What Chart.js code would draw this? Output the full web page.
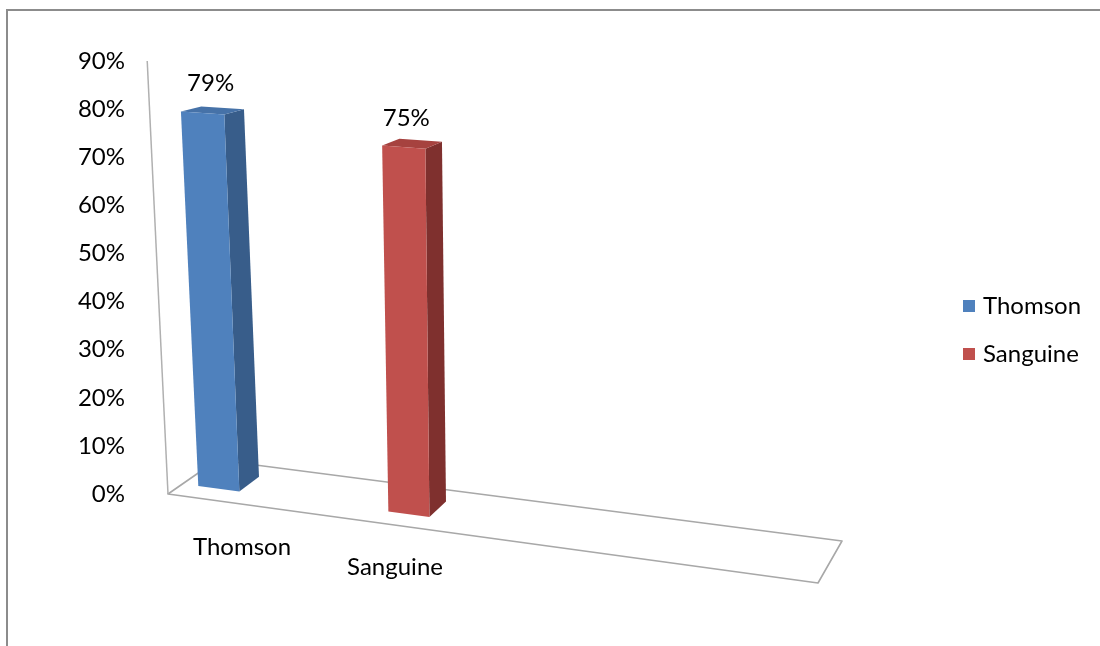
<!DOCTYPE html>
<html>
<head>
<meta charset="utf-8">
<script src="https://cdn.jsdelivr.net/npm/chart.js@4/dist/chart.umd.min.js"></script>
<style>
  html, body { margin: 0; padding: 0; background: #fff; }
  #wrap { width: 1100px; height: 646px; position: relative; }
</style>
</head>
<body>
<div id="wrap"><canvas id="chart" width="1100" height="646"></canvas></div>
<script>
// Data
const categories = ['Thomson', 'Sanguine'];
const values = [0.79, 0.75];
const tickValues = [0, 0.1, 0.2, 0.3, 0.4, 0.5, 0.6, 0.7, 0.8, 0.9];
const tickLabels = ['0%', '10%', '20%', '30%', '40%', '50%', '60%', '70%', '80%', '90%'];

// Face colours per category
const frontColors = ['#4f81bd', '#c0504d'];
const sideColors = ['#385d8a', '#7f302e'];
const topColors = ['#4672a8', '#a6423f'];

const FONT = '24px Lato';

// Oblique view of the plot: floor edges, lean of verticals and flattening with height
const VIEW = {
  front: [650, 89],
  depth0: [49, -34],
  depth1: [24, -42],
  lean0: 0.048,
  lean1: -0.048,
  frontRise: 0.1,
  depthRise: 0.058,
  barFront: 0.3,
  barBack: 0.72
};

function project(o, t, s, h) {
  const dx = VIEW.depth0[0] + (VIEW.depth1[0] - VIEW.depth0[0]) * t;
  const dy = VIEW.depth0[1] + (VIEW.depth1[1] - VIEW.depth0[1]) * t + VIEW.depthRise * h;
  const lean = VIEW.lean0 + (VIEW.lean1 - VIEW.lean0) * t;
  return [o.x + t * VIEW.front[0] + s * dx - lean * h,
          o.y + t * (VIEW.front[1] - VIEW.frontRise * h) + s * dy - h];
}

function poly(ctx, pts, fill, stroke, lw) {
  ctx.beginPath();
  ctx.moveTo(pts[0][0], pts[0][1]);
  for (let i = 1; i < pts.length; i++) ctx.lineTo(pts[i][0], pts[i][1]);
  ctx.closePath();
  if (fill) { ctx.fillStyle = fill; ctx.fill(); }
  if (stroke) { ctx.strokeStyle = stroke; ctx.lineWidth = lw || 1; ctx.stroke(); }
}

const columns3d = {
  id: 'columns3d',
  beforeDraw(chart) {
    const ctx = chart.ctx;
    ctx.save();
    // outer frame (top and left edges)
    ctx.strokeStyle = '#8c8c8c';
    ctx.lineWidth = 2;
    ctx.beginPath();
    ctx.moveTo(1100, 10);
    ctx.lineTo(7, 10);
    ctx.lineTo(7, 646);
    ctx.stroke();
    ctx.restore();
  },
  beforeDatasetDraw() {
    return false;
  },
  afterDatasetsDraw(chart) {
    const ctx = chart.ctx;
    const area = chart.chartArea;
    const ys = chart.scales.y;
    const o = { x: area.left, y: ys.getPixelForValue(0) };
    const top = o.y - ys.getPixelForValue(ys.max);
    ctx.save();
    ctx.lineJoin = 'round';

    // floor outline
    const floor = [project(o, 0, 0, 0), project(o, 1, 0, 0), project(o, 1, 1, 0), project(o, 0, 1, 0)];
    poly(ctx, floor, null, '#a8a8a8', 1.6);

    // value axis line
    const a0 = project(o, 0, 0, 0), a1 = project(o, 0, 0, top);
    ctx.strokeStyle = '#b0b0b0';
    ctx.lineWidth = 1.5;
    ctx.beginPath();
    ctx.moveTo(a0[0], a0[1]);
    ctx.lineTo(a1[0], a1[1]);
    ctx.stroke();

    const meta = chart.getDatasetMeta(0);
    const s0 = VIEW.barFront, s1 = VIEW.barBack;
    meta.data.forEach((el, i) => {
      const t0 = (el.x - el.width / 2 - area.left) / area.width;
      const t1 = (el.x + el.width / 2 - area.left) / area.width;
      const tc = (el.x - area.left) / area.width;
      const h = el.base - el.y;

      poly(ctx, [project(o, t1, s0, 0), project(o, t1, s1, 0), project(o, t1, s1, h), project(o, t1, s0, h)], sideColors[i]);
      poly(ctx, [project(o, t0, s0, h), project(o, t1, s0, h), project(o, t1, s1, h), project(o, t0, s1, h)], topColors[i]);
      poly(ctx, [project(o, t0, s0, 0), project(o, t1, s0, 0), project(o, t1, s0, h), project(o, t0, s0, h)], frontColors[i]);

      // value label above the column
      ctx.font = FONT;
      ctx.fillStyle = '#000';
      ctx.textAlign = 'center';
      ctx.textBaseline = 'middle';
      const lp = project(o, tc, 0.51, h);
      ctx.fillText(Math.round(values[i] * 100) + '%', lp[0] - 1.2 - 13.5 * tc, lp[1] - 27.4 + 6.8 * tc);

      // category label in front of the floor
      const cp = project(o, tc, 0, 0);
      ctx.fillText(categories[i], cp[0] + 45 - 133 * tc, cp[1] + 49 - 21 * tc);
    });

    // legend
    ctx.textAlign = 'left';
    categories.forEach((c, i) => {
      const y = 306 + i * 48;
      ctx.fillStyle = frontColors[i];
      ctx.fillRect(963, y - 6, 12, 12);
      ctx.fillStyle = '#000';
      ctx.fillText(c, 983, y);
    });
    ctx.restore();
  }
};

new Chart(document.getElementById('chart'), {
  type: 'bar',
  data: {
    datasets: [{
      label: 'Share',
      data: categories.map((c, i) => ({ x: i, y: values[i] })),
      backgroundColor: frontColors,
      categoryPercentage: 1,
      barPercentage: 0.216
    }]
  },
  options: {
    responsive: false,
    animation: false,
    devicePixelRatio: 1,
    layout: { padding: { left: 20, top: 61, bottom: 152, right: 270 } },
    scales: {
      x: {
        type: 'linear',
        display: false,
        offset: false,
        min: -0.19,
        max: 3.19,
        afterBuildTicks: (s) => { s.ticks = categories.map((c, i) => ({ value: i })); }
      },
      y: {
        min: 0,
        max: 0.9,
        afterBuildTicks: (s) => { s.ticks = tickValues.map(v => ({ value: v })); },
        afterFit: (s) => { s.width = 148; },
        grid: { display: false, drawTicks: false },
        border: { display: false },
        ticks: {
          padding: 43,
          color: '#000',
          font: { family: 'Lato', size: 24 },
          callback: (v, i) => tickLabels[i]
        }
      }
    },
    plugins: {
      legend: { display: false },
      tooltip: { enabled: false }
    }
  },
  plugins: [columns3d]
});
</script>
</body>
</html>
